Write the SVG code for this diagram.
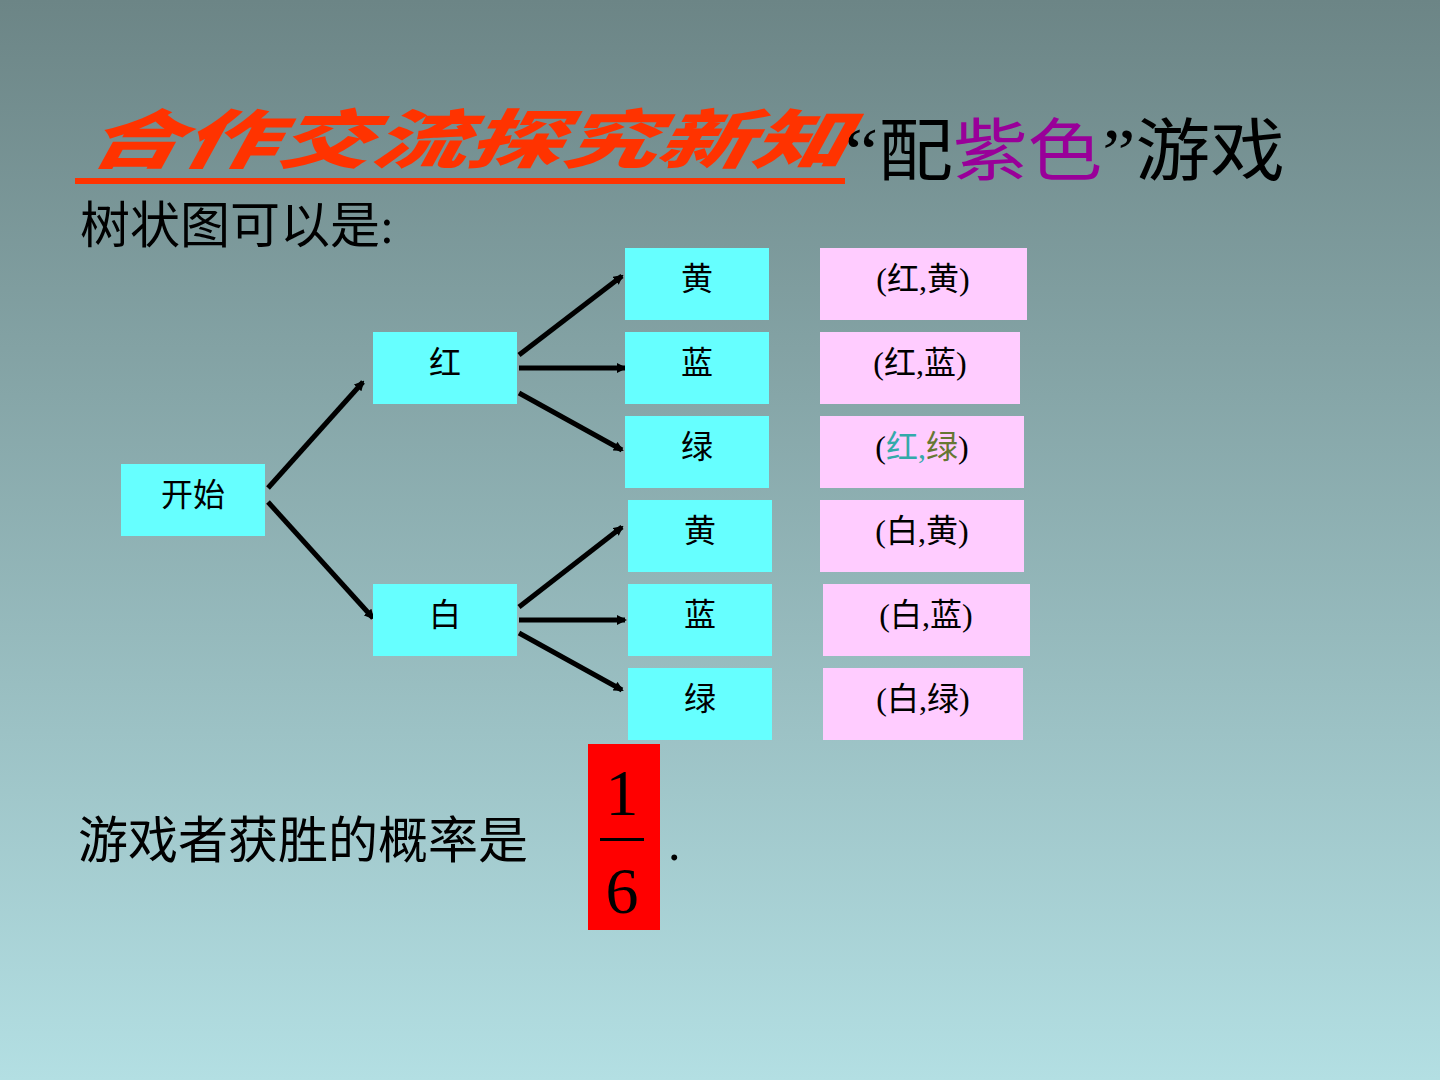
<svg xmlns="http://www.w3.org/2000/svg" width="1440" height="1080" viewBox="0 0 1440 1080">
<defs>
<linearGradient id="bg" x1="0" y1="0" x2="0" y2="1"><stop offset="0" stop-color="#6c8586"/><stop offset="1" stop-color="#b3dfe3"/></linearGradient>
<marker id="ah" markerWidth="10" markerHeight="10" refX="8" refY="5" orient="auto" markerUnits="userSpaceOnUse" viewBox="0 0 10 10"><path d="M0,0 L10,5 L0,10 z" fill="#000"/></marker>
<style>
.t{font-family:"Liberation Serif","Noto Sans CJK SC",serif;fill:#000}
.c{fill:#66ffff}.p{fill:#ffccff}
.n{font-family:"Liberation Serif","Noto Sans CJK SC",serif;font-size:32px;text-anchor:middle;fill:#000}
.a{stroke:#000;stroke-width:5;fill:none;marker-end:url(#ah)}
</style>
</defs>
<rect width="1440" height="1080" fill="url(#bg)"/>
<text x="85" y="163" font-family="'Noto Sans CJK SC',sans-serif" font-size="64" font-weight="900" font-style="italic" fill="#ff3300" textLength="760" lengthAdjust="spacingAndGlyphs" transform="skewX(-10) translate(28,0)">合作交流探究新知</text>
<rect x="75" y="178" width="770" height="6" fill="#ff3300"/>
<text x="845" y="175" class="t" font-size="68" textLength="440" lengthAdjust="spacingAndGlyphs">“配<tspan fill="#990099">紫色</tspan>”游戏</text>
<text x="80" y="243" class="t" font-size="50">树状图可以是:</text>
<g id="connectors">
<line class="a" x1="268" y1="488" x2="363" y2="382"/>
<line class="a" x1="268" y1="502" x2="373" y2="618"/>
<line class="a" x1="519" y1="355" x2="622" y2="276"/>
<line class="a" x1="519" y1="368" x2="625" y2="368"/>
<line class="a" x1="519" y1="393" x2="622" y2="450"/>
<line class="a" x1="519" y1="607" x2="622" y2="527"/>
<line class="a" x1="519" y1="620" x2="625" y2="620"/>
<line class="a" x1="519" y1="633" x2="622" y2="690"/>
</g>
<g id="start"><rect class="c" x="121" y="464" width="144" height="72"/><text class="n" x="193" y="506">开始</text></g>
<g id="red"><rect class="c" x="373" y="332" width="144" height="72"/><text class="n" x="445" y="374">红</text></g>
<g id="white"><rect class="c" x="373" y="584" width="144" height="72"/><text class="n" x="445" y="626">白</text></g>
<g id="r1"><rect class="c" x="625" y="248" width="144" height="72"/><text class="n" x="697" y="290">黄</text></g>
<g id="r2"><rect class="c" x="625" y="332" width="144" height="72"/><text class="n" x="697" y="374">蓝</text></g>
<g id="r3"><rect class="c" x="625" y="416" width="144" height="72"/><text class="n" x="697" y="458">绿</text></g>
<g id="w1"><rect class="c" x="628" y="500" width="144" height="72"/><text class="n" x="700" y="542">黄</text></g>
<g id="w2"><rect class="c" x="628" y="584" width="144" height="72"/><text class="n" x="700" y="626">蓝</text></g>
<g id="w3"><rect class="c" x="628" y="668" width="144" height="72"/><text class="n" x="700" y="710">绿</text></g>
<g id="o1"><rect class="p" x="820" y="248" width="207" height="72"/><text class="n" x="923" y="290">(红,黄)</text></g>
<g id="o2"><rect class="p" x="820" y="332" width="200" height="72"/><text class="n" x="920" y="374">(红,蓝)</text></g>
<g id="o3"><rect class="p" x="820" y="416" width="204" height="72"/><text class="n" x="922" y="458">(<tspan fill="#33aaaa">红,</tspan><tspan fill="#667733">绿</tspan>)</text></g>
<g id="o4"><rect class="p" x="820" y="500" width="204" height="72"/><text class="n" x="922" y="542">(白,黄)</text></g>
<g id="o5"><rect class="p" x="823" y="584" width="207" height="72"/><text class="n" x="926" y="626">(白,蓝)</text></g>
<g id="o6"><rect class="p" x="823" y="668" width="200" height="72"/><text class="n" x="923" y="710">(白,绿)</text></g>
<text x="78" y="858" class="t" font-size="50">游戏者获胜的概率是</text>
<rect x="588" y="744" width="72" height="186" fill="#ff0000"/>
<text x="622" y="815" class="t" font-size="66" text-anchor="middle">1</text>
<rect x="600" y="838" width="44" height="3" fill="#000"/>
<text x="622" y="913" class="t" font-size="66" text-anchor="middle">6</text>
<text x="668" y="860" class="t" font-size="50">.</text>
</svg>
